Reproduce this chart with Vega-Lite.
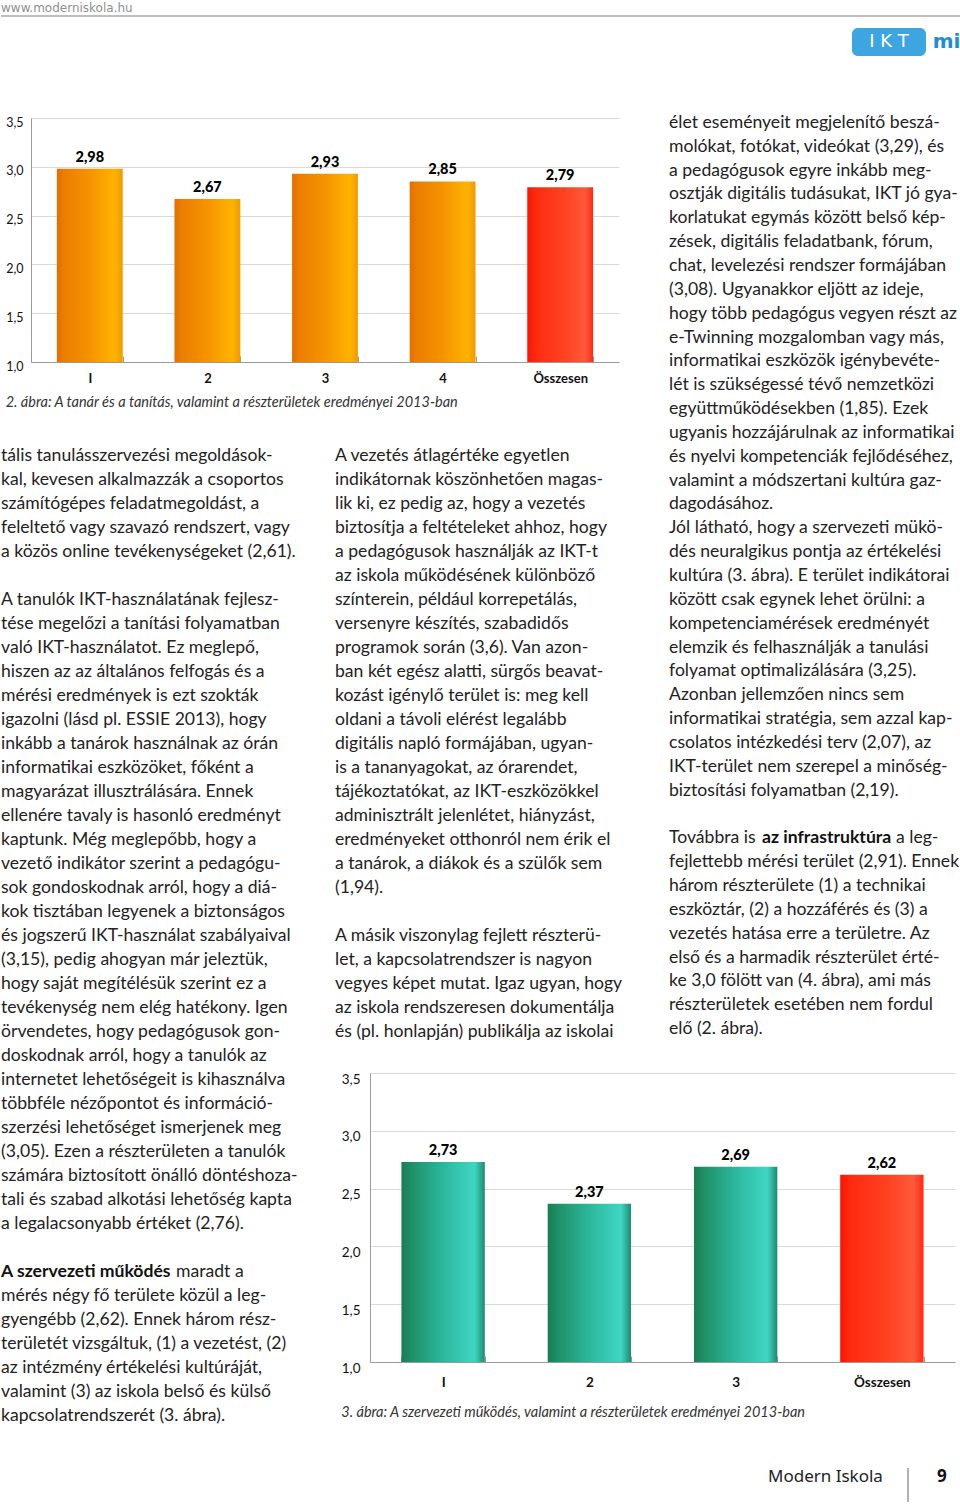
{
  "$schema": "https://vega.github.io/schema/vega-lite/v6.json",
  "padding": 0,
  "autosize": {"type": "pad"},
  "background": "white",
  "config": {
    "view": {"stroke": null},
    "locale": {"number": {"decimal": ",", "thousands": " ", "grouping": [3], "currency": ["", " Ft"]}}
  },
  "datasets": {
    "c1": [
      {"cat": "I", "v": 2.98}, {"cat": "2", "v": 2.67}, {"cat": "3", "v": 2.93}, {"cat": "4", "v": 2.85}, {"cat": "Összesen", "v": 2.79}
    ],
    "c2": [
      {"cat": "I", "v": 2.73}, {"cat": "2", "v": 2.37}, {"cat": "3", "v": 2.69}, {"cat": "Összesen", "v": 2.62}
    ],
    "leftTop": [
      {"line": 0, "t": "tális tanulásszervezési megoldások-"},
      {"line": 1, "t": "kal, kevesen alkalmazzák a csoportos"},
      {"line": 2, "t": "számítógépes feladatmegoldást, a"},
      {"line": 3, "t": "feleltető vagy szavazó rendszert, vagy"},
      {"line": 4, "t": "a közös online tevékenységeket (2,61)."},
      {"line": 6, "t": "A tanulók IKT-használatának fejlesz-"},
      {"line": 7, "t": "tése megelőzi a tanítási folyamatban"},
      {"line": 8, "t": "való IKT-használatot. Ez meglepő,"},
      {"line": 9, "t": "hiszen az az általános felfogás és a"},
      {"line": 10, "t": "mérési eredmények is ezt szokták"},
      {"line": 11, "t": "igazolni (lásd pl. ESSIE 2013), hogy"},
      {"line": 12, "t": "inkább a tanárok használnak az órán"},
      {"line": 13, "t": "informatikai eszközöket, főként a"},
      {"line": 14, "t": "magyarázat illusztrálására. Ennek"},
      {"line": 15, "t": "ellenére tavaly is hasonló eredményt"},
      {"line": 16, "t": "kaptunk. Még meglepőbb, hogy a"},
      {"line": 17, "t": "vezető indikátor szerint a pedagógu-"},
      {"line": 18, "t": "sok gondoskodnak arról, hogy a diá-"},
      {"line": 19, "t": "kok tisztában legyenek a biztonságos"},
      {"line": 20, "t": "és jogszerű IKT-használat szabályaival"},
      {"line": 21, "t": "(3,15), pedig ahogyan már jeleztük,"},
      {"line": 22, "t": "hogy saját megítélésük szerint ez a"},
      {"line": 23, "t": "tevékenység nem elég hatékony. Igen"},
      {"line": 24, "t": "örvendetes, hogy pedagógusok gon-"}
    ],
    "leftBottom": [
      {"line": 0, "t": "doskodnak arról, hogy a tanulók az"},
      {"line": 1, "t": "internetet lehetőségeit is kihasználva"},
      {"line": 2, "t": "többféle nézőpontot és információ-"},
      {"line": 3, "t": "szerzési lehetőséget ismerjenek meg"},
      {"line": 4, "t": "(3,05). Ezen a részterületen a tanulók"},
      {"line": 5, "t": "számára biztosított önálló döntéshoza-"},
      {"line": 6, "t": "tali és szabad alkotási lehetőség kapta"},
      {"line": 7, "t": "a legalacsonyabb értéket (2,76)."},
      {"line": 10, "t": "mérés négy fő területe közül a leg-"},
      {"line": 11, "t": "gyengébb (2,62). Ennek három rész-"},
      {"line": 12, "t": "területét vizsgáltuk, (1) a vezetést, (2)"},
      {"line": 13, "t": "az intézmény értékelési kultúráját,"},
      {"line": 14, "t": "valamint (3) az iskola belső és külső"},
      {"line": 15, "t": "kapcsolatrendszerét (3. ábra)."}
    ],
    "mid": [
      {"line": 0, "t": "A vezetés átlagértéke egyetlen"},
      {"line": 1, "t": "indikátornak köszönhetően magas-"},
      {"line": 2, "t": "lik ki, ez pedig az, hogy a vezetés"},
      {"line": 3, "t": "biztosítja a feltételeket ahhoz, hogy"},
      {"line": 4, "t": "a pedagógusok használják az IKT-t"},
      {"line": 5, "t": "az iskola működésének különböző"},
      {"line": 6, "t": "színterein, például korrepetálás,"},
      {"line": 7, "t": "versenyre készítés, szabadidős"},
      {"line": 8, "t": "programok során (3,6). Van azon-"},
      {"line": 9, "t": "ban két egész alatti, sürgős beavat-"},
      {"line": 10, "t": "kozást igénylő terület is: meg kell"},
      {"line": 11, "t": "oldani a távoli elérést legalább"},
      {"line": 12, "t": "digitális napló formájában, ugyan-"},
      {"line": 13, "t": "is a tananyagokat, az órarendet,"},
      {"line": 14, "t": "tájékoztatókat, az IKT-eszközökkel"},
      {"line": 15, "t": "adminisztrált jelenlétet, hiányzást,"},
      {"line": 16, "t": "eredményeket otthonról nem érik el"},
      {"line": 17, "t": "a tanárok, a diákok és a szülők sem"},
      {"line": 18, "t": "(1,94)."},
      {"line": 20, "t": "A másik viszonylag fejlett részterü-"},
      {"line": 21, "t": "let, a kapcsolatrendszer is nagyon"},
      {"line": 22, "t": "vegyes képet mutat. Igaz ugyan, hogy"},
      {"line": 23, "t": "az iskola rendszeresen dokumentálja"},
      {"line": 24, "t": "és (pl. honlapján) publikálja az iskolai"}
    ],
    "right": [
      {"line": 0, "t": "élet eseményeit megjelenítő beszá-"},
      {"line": 1, "t": "molókat, fotókat, videókat (3,29), és"},
      {"line": 2, "t": "a pedagógusok egyre inkább meg-"},
      {"line": 3, "t": "osztják digitális tudásukat, IKT jó gya-"},
      {"line": 4, "t": "korlatukat egymás között belső kép-"},
      {"line": 5, "t": "zések, digitális feladatbank, fórum,"},
      {"line": 6, "t": "chat, levelezési rendszer formájában"},
      {"line": 7, "t": "(3,08). Ugyanakkor eljött az ideje,"},
      {"line": 8, "t": "hogy több pedagógus vegyen részt az"},
      {"line": 9, "t": "e-Twinning mozgalomban vagy más,"},
      {"line": 10, "t": "informatikai eszközök igénybevéte-"},
      {"line": 11, "t": "lét is szükségessé tévő nemzetközi"},
      {"line": 12, "t": "együttműködésekben (1,85). Ezek"},
      {"line": 13, "t": "ugyanis hozzájárulnak az informatikai"},
      {"line": 14, "t": "és nyelvi kompetenciák fejlődéséhez,"},
      {"line": 15, "t": "valamint a módszertani kultúra gaz-"},
      {"line": 16, "t": "dagodásához."},
      {"line": 17, "t": "Jól látható, hogy a szervezeti mükö-"},
      {"line": 18, "t": "dés neuralgikus pontja az értékelési"},
      {"line": 19, "t": "kultúra (3. ábra). E terület indikátorai"},
      {"line": 20, "t": "között csak egynek lehet örülni: a"},
      {"line": 21, "t": "kompetenciamérések eredményét"},
      {"line": 22, "t": "elemzik és felhasználják a tanulási"},
      {"line": 23, "t": "folyamat optimalizálására (3,25)."},
      {"line": 24, "t": "Azonban jellemzően nincs sem"},
      {"line": 25, "t": "informatikai stratégia, sem azzal kap-"},
      {"line": 26, "t": "csolatos intézkedési terv (2,07), az"},
      {"line": 27, "t": "IKT-terület nem szerepel a minőség-"},
      {"line": 28, "t": "biztosítási folyamatban (2,19)."},
      {"line": 30, "t": "Továbbra is"},
      {"line": 31, "t": "fejlettebb mérési terület (2,91). Ennek"},
      {"line": 32, "t": "három részterülete (1) a technikai"},
      {"line": 33, "t": "eszköztár, (2) a hozzáférés és (3) a"},
      {"line": 34, "t": "vezetés hatása erre a területre. Az"},
      {"line": 35, "t": "első és a harmadik részterület érté-"},
      {"line": 36, "t": "ke 3,0 fölött van (4. ábra), ami más"},
      {"line": 37, "t": "részterületek esetében nem fordul"},
      {"line": 38, "t": "elő (2. ábra)."}
    ]
  },
  "vconcat": [
    {
      "vconcat": [
        {
          "width": 960, "height": 16,
          "layer": [
            {
              "data": {"values": [{"t": "www.moderniskola.hu"}]},
              "mark": {"type": "text", "align": "left", "baseline": "middle", "font": "DejaVu Sans", "fontSize": 12, "color": "#8f8f8f"},
              "encoding": {"x": {"value": 0}, "text": {"field": "t"}}
            },
            {
              "data": {"values": [{}]},
              "mark": {"type": "rule", "color": "#a8a8a8", "strokeWidth": 1.5},
              "encoding": {"x": {"value": 0}, "x2": {"value": "width"}, "y": {"value": "height"}}
            }
          ]
        },
        {
          "hconcat": [
            {"width": 851, "height": 39, "data": {"values": []}, "mark": "point"},
            {
              "vconcat": [
                {"width": 1, "height": 11, "data": {"values": []}, "mark": "point"},
                {
                  "hconcat": [
                    {
                      "width": 74, "height": 28,
                      "view": {"fill": "#3da5e0", "cornerRadius": 6, "stroke": null},
                      "data": {"values": [{"t": "I K T"}]},
                      "mark": {"type": "text", "font": "DejaVu Sans", "fontSize": 18, "color": "white"},
                      "encoding": {"text": {"field": "t"}}
                    },
                    {"width": 6, "height": 28, "data": {"values": []}, "mark": "point"},
                    {
                      "width": 29, "height": 28,
                      "data": {"values": [{"t": "mi"}]},
                      "mark": {"type": "text", "font": "DejaVu Sans", "fontWeight": "bold", "fontSize": 20, "color": "#1c8dd6"},
                      "encoding": {"text": {"field": "t"}}
                    }
                  ],
                  "spacing": 0
                }
              ],
              "spacing": 0
            }
          ],
          "spacing": 0
        }
      ],
      "spacing": 0
    },
    {
      "hconcat": [
        {
          "vconcat": [
            {"width": 1, "height": 60, "data": {"values": []}, "mark": "point"},
            {
              "hconcat": [
                {"width": 4, "height": 1, "data": {"values": []}, "mark": "point"},
                {
                  "width": 588, "height": 244,
                  "data": {"name": "c1"},
                  "title": {"text": "2. ábra: A tanár és a tanítás, valamint a részterületek eredményei 2013-ban", "orient": "bottom", "anchor": "start", "frame": "bounds", "font": "Lato", "fontStyle": "italic", "fontWeight": "normal", "fontSize": 14.5, "color": "#333333", "offset": 11},
                  "encoding": {
                    "x": {"field": "cat", "type": "nominal", "sort": null,
                      "scale": {"domain": ["I", "2", "3", "4", "Összesen"], "paddingInner": 0.44, "paddingOuter": 0.22},
                      "axis": {"title": null, "labelAngle": 0, "labelFont": "Lato", "labelFontSize": 13, "labelFontWeight": "bold", "labelColor": "#111111", "labelPadding": 16, "domainColor": "#9a9a9a", "ticks": true, "tickBand": "extent", "tickSize": -6, "tickColor": "#9a9a9a", "grid": false}},
                    "y": {"field": "v", "type": "quantitative",
                      "scale": {"domain": [1, 3.5], "nice": false, "zero": false},
                      "axis": {"title": null, "values": [1, 1.5, 2, 2.5, 3, 3.5], "format": ".1f", "labelFont": "Lato", "labelFontSize": 12.5, "labelColor": "#111111", "labelPadding": 8, "labelOffset": 4, "ticks": false, "domainColor": "#9a9a9a", "grid": true, "gridColor": "#dadada"}}
                  },
                  "layer": [
                    {
                      "transform": [{"filter": "datum.cat !== 'Összesen'"}],
                      "mark": {"type": "bar", "fill": {"gradient": "linear", "x1": 0, "y1": 0, "x2": 1, "y2": 0, "stops": [{"offset": 0, "color": "#e06f00"}, {"offset": 0.1, "color": "#ec7d00"}, {"offset": 0.5, "color": "#f59300"}, {"offset": 0.88, "color": "#ffb300"}, {"offset": 1, "color": "#ef9a00"}]}},
                      "encoding": {"y2": {"datum": 1}}
                    },
                    {
                      "transform": [{"filter": "datum.cat === 'Összesen'"}],
                      "mark": {"type": "bar", "fill": {"gradient": "linear", "x1": 0, "y1": 0, "x2": 1, "y2": 0, "stops": [{"offset": 0, "color": "#ff1400"}, {"offset": 0.12, "color": "#ff2a10"}, {"offset": 0.6, "color": "#ff4424"}, {"offset": 0.88, "color": "#ff5a3a"}, {"offset": 1, "color": "#ff2a10"}]}},
                      "encoding": {"y2": {"datum": 1}}
                    },
                    {
                      "mark": {"type": "text", "baseline": "bottom", "dy": -4, "font": "Lato", "fontWeight": 900, "fontSize": 14.5, "color": "#000000"},
                      "encoding": {"text": {"field": "v", "type": "quantitative", "format": ".2f"}}
                    }
                  ]
                }
              ],
              "spacing": 0
            },
            {"width": 1, "height": 34, "data": {"values": []}, "mark": "point"},
            {
              "hconcat": [
                {
                  "width": 334, "height": 600,
                  "data": {"name": "leftTop"},
                  "mark": {"type": "text", "align": "left", "baseline": "middle", "font": "Lato", "fontSize": 17.6, "color": "#222222"},
                  "encoding": {
                    "x": {"value": 0},
                    "y": {"field": "line", "type": "quantitative", "scale": {"domain": [-0.5, 24.5], "reverse": true, "nice": false, "zero": false}, "axis": null},
                    "text": {"field": "t"}
                  }
                },
                {
                  "width": 290, "height": 600,
                  "data": {"name": "mid"},
                  "mark": {"type": "text", "align": "left", "baseline": "middle", "font": "Lato", "fontSize": 17.6, "color": "#222222"},
                  "encoding": {
                    "x": {"value": 0},
                    "y": {"field": "line", "type": "quantitative", "scale": {"domain": [-0.5, 24.5], "reverse": true, "nice": false, "zero": false}, "axis": null},
                    "text": {"field": "t"}
                  }
                }
              ],
              "spacing": 0
            }
          ],
          "spacing": 0
        },
        {"width": 44, "height": 1, "data": {"values": []}, "mark": "point"},
        {
          "vconcat": [
            {"width": 1, "height": 55, "data": {"values": []}, "mark": "point"},
            {
              "width": 292, "height": 930,
              "encoding": {
                "x": {"value": 0},
                "y": {"field": "line", "type": "quantitative", "scale": {"domain": [-0.5, 38.5], "reverse": true, "nice": false, "zero": false}, "axis": null},
                "text": {"field": "t"}
              },
              "layer": [
                {
                  "data": {"name": "right"},
                  "mark": {"type": "text", "align": "left", "baseline": "middle", "font": "Lato", "fontSize": 17.6, "color": "#222222"}
                },
                {
                  "data": {"values": [{"line": 30, "t": "az infrastruktúra"}]},
                  "mark": {"type": "text", "align": "left", "baseline": "middle", "font": "Lato", "fontSize": 17.6, "fontWeight": "bold", "color": "#111111", "dx": 93}
                },
                {
                  "data": {"values": [{"line": 30, "t": "a leg-"}]},
                  "mark": {"type": "text", "align": "left", "baseline": "middle", "font": "Lato", "fontSize": 17.6, "color": "#222222", "dx": 227}
                }
              ]
            }
          ],
          "spacing": 0
        }
      ],
      "spacing": 0
    },
    {
      "hconcat": [
        {
          "width": 340, "height": 384,
          "encoding": {
            "x": {"value": 0},
            "y": {"field": "line", "type": "quantitative", "scale": {"domain": [-0.5, 15.5], "reverse": true, "nice": false, "zero": false}, "axis": null},
            "text": {"field": "t"}
          },
          "layer": [
            {
              "data": {"name": "leftBottom"},
              "mark": {"type": "text", "align": "left", "baseline": "middle", "font": "Lato", "fontSize": 17.6, "color": "#222222"}
            },
            {
              "data": {"values": [{"line": 9, "t": "A szervezeti működés"}]},
              "mark": {"type": "text", "align": "left", "baseline": "middle", "font": "Lato", "fontSize": 17.6, "fontWeight": "bold", "color": "#111111"}
            },
            {
              "data": {"values": [{"line": 9, "t": "maradt a"}]},
              "mark": {"type": "text", "align": "left", "baseline": "middle", "font": "Lato", "fontSize": 17.6, "color": "#222222", "dx": 175}
            }
          ]
        },
        {
          "vconcat": [
            {"width": 1, "height": 28, "data": {"values": []}, "mark": "point"},
            {
              "width": 585, "height": 289,
              "data": {"name": "c2"},
              "title": {"text": "3. ábra: A szervezeti működés, valamint a részterületek eredményei 2013-ban", "orient": "bottom", "anchor": "start", "frame": "bounds", "font": "Lato", "fontStyle": "italic", "fontWeight": "normal", "fontSize": 14.5, "color": "#333333", "offset": 17},
              "encoding": {
                "x": {"field": "cat", "type": "nominal", "sort": null,
                  "scale": {"domain": ["I", "2", "3", "Összesen"], "paddingInner": 0.43, "paddingOuter": 0.215},
                  "axis": {"title": null, "labelAngle": 0, "labelFont": "Lato", "labelFontSize": 13.5, "labelFontWeight": "bold", "labelColor": "#111111", "labelPadding": 19, "domainColor": "#9a9a9a", "ticks": true, "tickBand": "extent", "tickSize": -6, "tickColor": "#9a9a9a", "grid": false}},
                "y": {"field": "v", "type": "quantitative",
                  "scale": {"domain": [1, 3.5], "nice": false, "zero": false},
                  "axis": {"title": null, "values": [1, 1.5, 2, 2.5, 3, 3.5], "format": ".1f", "labelFont": "Lato", "labelFontSize": 13.5, "labelColor": "#111111", "labelPadding": 10, "labelOffset": 6, "ticks": false, "domainColor": "#9a9a9a", "grid": true, "gridColor": "#dadada"}}
              },
              "layer": [
                {
                  "transform": [{"filter": "datum.cat !== 'Összesen'"}],
                  "mark": {"type": "bar", "fill": {"gradient": "linear", "x1": 0, "y1": 0, "x2": 1, "y2": 0, "stops": [{"offset": 0, "color": "#1a7c54"}, {"offset": 0.12, "color": "#1f9067"}, {"offset": 0.5, "color": "#2cb79c"}, {"offset": 0.88, "color": "#3fd6c5"}, {"offset": 1, "color": "#1f8a6b"}]}},
                  "encoding": {"y2": {"datum": 1}}
                },
                {
                  "transform": [{"filter": "datum.cat === 'Összesen'"}],
                  "mark": {"type": "bar", "fill": {"gradient": "linear", "x1": 0, "y1": 0, "x2": 1, "y2": 0, "stops": [{"offset": 0, "color": "#ff1400"}, {"offset": 0.12, "color": "#ff2a10"}, {"offset": 0.6, "color": "#ff4424"}, {"offset": 0.88, "color": "#ff5a3a"}, {"offset": 1, "color": "#ff2a10"}]}},
                  "encoding": {"y2": {"datum": 1}}
                },
                {
                  "mark": {"type": "text", "baseline": "bottom", "dy": -4, "font": "Lato", "fontWeight": 900, "fontSize": 14.5, "color": "#000000"},
                  "encoding": {"text": {"field": "v", "type": "quantitative", "format": ".2f"}}
                }
              ]
            }
          ],
          "spacing": 0
        }
      ],
      "spacing": 0
    },
    {
      "vconcat": [
        {"width": 1, "height": 39, "data": {"values": []}, "mark": "point"},
        {
          "hconcat": [
            {"width": 767, "height": 1, "data": {"values": []}, "mark": "point"},
            {
              "width": 139, "height": 18,
              "data": {"values": [{"t": "Modern Iskola"}]},
              "mark": {"type": "text", "align": "left", "baseline": "middle", "font": "Noto Sans", "fontSize": 17, "color": "#222222"},
              "encoding": {"x": {"value": 0}, "text": {"field": "t"}}
            },
            {
              "width": 29, "height": 34,
              "data": {"values": [{}]},
              "mark": {"type": "rule", "color": "#9a9a9a", "strokeWidth": 1.5},
              "encoding": {"x": {"value": 0}, "y": {"value": 0}, "y2": {"value": "height"}}
            },
            {
              "width": 20, "height": 18,
              "data": {"values": [{"t": "9"}]},
              "mark": {"type": "text", "align": "left", "baseline": "middle", "font": "Noto Sans", "fontWeight": "bold", "fontSize": 17, "color": "#111111"},
              "encoding": {"x": {"value": 0}, "text": {"field": "t"}}
            }
          ],
          "spacing": 0
        }
      ],
      "spacing": 0
    }
  ],
  "spacing": 0
}
